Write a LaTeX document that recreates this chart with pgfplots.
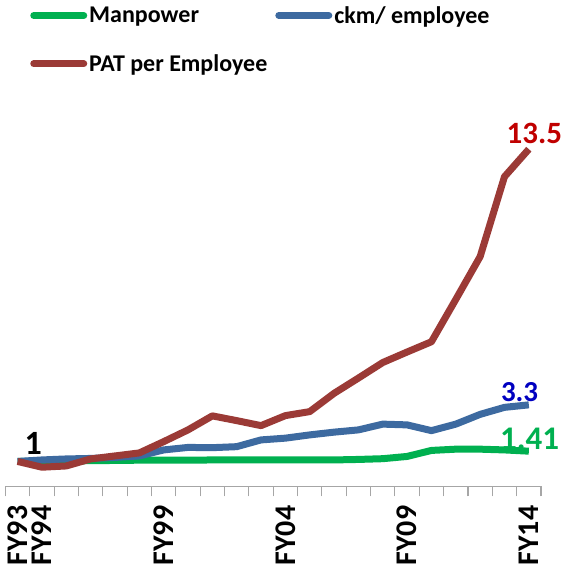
\documentclass[border=0pt]{standalone}
\usepackage{fontspec}
\setmainfont{Carlito}
\usepackage{pgfplots}
\pgfplotsset{compat=1.18}
\definecolor{mpGreen}{HTML}{00B050}
\definecolor{ckBlue}{HTML}{3D6AA0}
\definecolor{patRed}{HTML}{9B3A36}
\definecolor{lblRed}{HTML}{C00000}
\definecolor{lblBlue}{HTML}{0000C0}

\begin{document}
\begin{tikzpicture}
\begin{axis}[width=535.6pt,height=350.6pt,scale only axis,
xmin=-0.5,xmax=21.5,ymin=0,ymax=14,
axis x line=bottom,axis y line=none,
axis line style={-,draw=gray!70,line width=1.3pt},
xtick={0,1,6,11,16,21},xticklabels={FY93,FY94,FY99,FY04,FY09,FY14},
minor xtick={-0.5,0.5,...,21.5},
xtick align=outside,major tick length=0pt,minor tick length=10pt,
minor tick style={draw=gray!70,line width=1.1pt},
xticklabel style={font=\bfseries\fontsize{30}{30}\selectfont,
  inner sep=0pt,yshift=-19pt,rotate=90,anchor=east},
clip=false,
legend columns=2,
legend style={draw=none,fill=none,inner sep=0pt,
  at={(rel axis cs:0.046,1.376)},anchor=north west,
  font=\bfseries\fontsize{24}{24}\selectfont,row sep=26pt,
  /tikz/every even column/.append style={column sep=6pt}},
legend cell align=left,
legend image code/.code={\draw[#1,line cap=round] (0pt,0pt) -- (50pt,0pt);},
line join=round]
\addplot[mpGreen,line width=7pt] coordinates {
(0,1.00) (1,1.01) (2,1.02) (3,1.03) (4,1.04) (5,1.05) (6,1.05) (7,1.05)
(8,1.06) (9,1.06) (10,1.06) (11,1.06) (12,1.06) (13,1.06) (14,1.08)
(15,1.11) (16,1.20) (17,1.44) (18,1.49) (19,1.49) (20,1.46) (21,1.41)};
\addlegendentry{Manpower}
\addplot[ckBlue,line width=7pt] coordinates {
(0,1.00) (1,1.06) (2,1.10) (3,1.12) (4,1.16) (5,1.22) (6,1.46) (7,1.56)
(8,1.55) (9,1.59) (10,1.86) (11,1.93) (12,2.06) (13,2.17) (14,2.26)
(15,2.49) (16,2.46) (17,2.23) (18,2.49) (19,2.88) (20,3.16) (21,3.26)};
\addlegendentry{ckm/ employee}
\addplot[patRed,line width=7pt] coordinates {
(0,1.00) (1,0.77) (2,0.82) (3,1.10) (4,1.22) (5,1.34) (6,1.79) (7,2.26)
(8,2.82) (9,2.63) (10,2.43) (11,2.83) (12,2.99) (13,3.72) (14,4.33)
(15,4.95) (16,5.37) (17,5.78) (18,7.47) (19,9.18) (20,12.37) (21,13.47)};
\addlegendentry{PAT per Employee}
\node[anchor=base,font=\bfseries\fontsize{34}{34}\selectfont] at (axis cs:0.64,1.26) {1};
\node[anchor=base,text=lblRed,font=\bfseries\fontsize{31}{31}\selectfont] at (axis cs:21.23,13.71) {13.5};
\node[anchor=base,text=lblBlue,font=\bfseries\fontsize{29}{29}\selectfont] at (axis cs:20.62,3.38) {3.3};
\node[anchor=base,text=mpGreen,font=\bfseries\fontsize{33}{33}\selectfont] at (axis cs:21.03,1.46) {1.41};
\coordinate (bl) at (rel axis cs:-0.0101,-0.2382);
\coordinate (tr) at (rel axis cs:1.0392,1.3876);
\end{axis}
\pgfresetboundingbox
\path[use as bounding box] (bl) rectangle (tr);
\end{tikzpicture}
\end{document}
